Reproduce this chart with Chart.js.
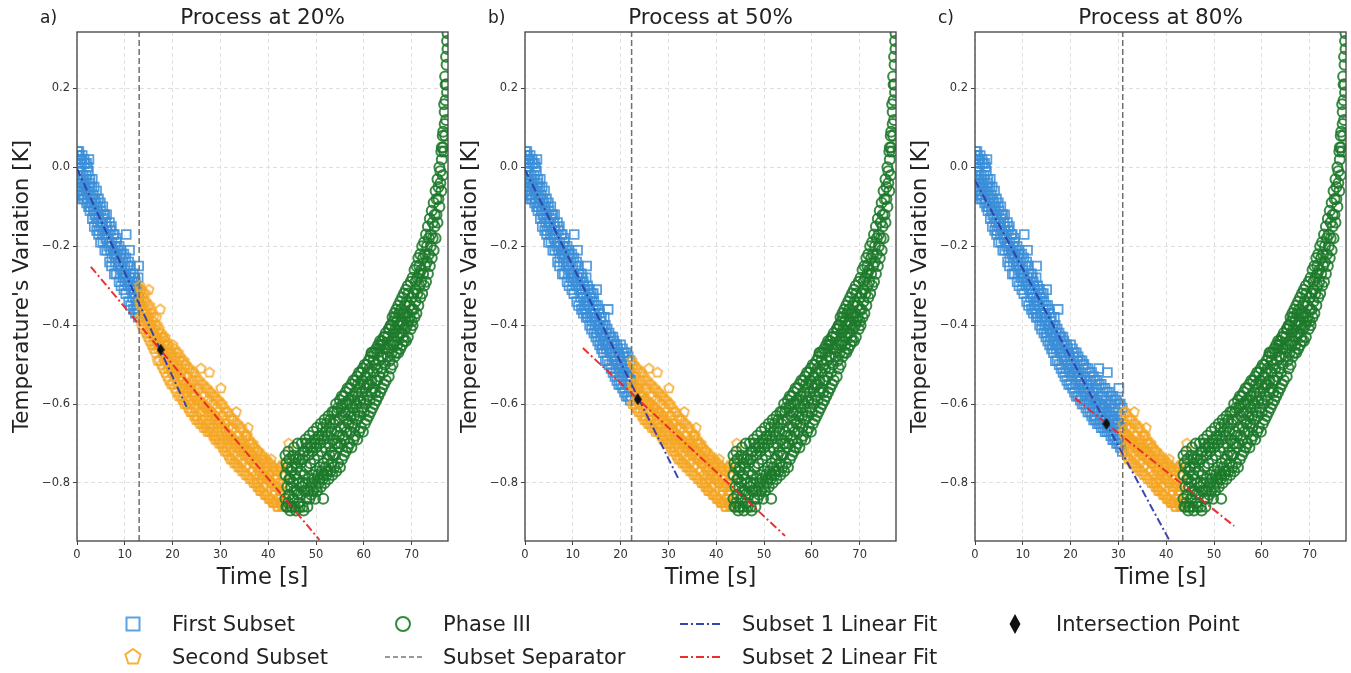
<!DOCTYPE html>
<html>
<head>
<meta charset="utf-8">
<script src="https://cdn.jsdelivr.net/npm/chart.js@4.4.1/dist/chart.umd.min.js"></script>
<style>
  body { margin: 0; background: #fff; width: 1351px; height: 673px; position: relative; overflow: hidden; font-family: "DejaVu Sans", sans-serif; color: #222; }
  .panel { position: absolute; top: 0; width: 451px; height: 600px; }
  .letter { position: absolute; top: 5px; font-size: 17px; line-height: 24px; }
  .lg { position: absolute; font-size: 21px; line-height: 24px; white-space: nowrap; }
</style>
</head>
<body>
<div class="panel" style="left:0px"><canvas id="panel0" width="451" height="600"></canvas></div>
<div class="panel" style="left:448px"><canvas id="panel1" width="451" height="600"></canvas></div>
<div class="panel" style="left:898px"><canvas id="panel2" width="451" height="600"></canvas></div>
<div class="letter" style="left:40px">a)</div>
<div class="letter" style="left:488px">b)</div>
<div class="letter" style="left:938px">c)</div>

<svg width="1351" height="78" style="position:absolute;left:0;top:595px">
  <rect x="126.5" y="22.5" width="13" height="13" fill="none" stroke="#5aa2e2" stroke-width="2"/>
  <polygon points="133,54 140.6,59.5 137.7,68.5 128.3,68.5 125.4,59.5" fill="none" stroke="#f6b23a" stroke-width="2"/>
  <circle cx="403" cy="29" r="7" fill="none" stroke="#2e8c3a" stroke-width="2"/>
  <line x1="385" y1="62" x2="425" y2="62" stroke="#777" stroke-width="1.6" stroke-dasharray="5,3"/>
  <line x1="680" y1="29" x2="722" y2="29" stroke="#3545b0" stroke-width="2" stroke-dasharray="8,3,2,3"/>
  <line x1="680" y1="62" x2="722" y2="62" stroke="#e8302c" stroke-width="2" stroke-dasharray="8,3,2,3"/>
  <polygon points="1015,19 1020.5,29 1015,39 1009.5,29" fill="#111"/>
</svg>
<div class="lg" style="left:172px;top:612px">First Subset</div>
<div class="lg" style="left:172px;top:645px">Second Subset</div>
<div class="lg" style="left:443px;top:612px">Phase III</div>
<div class="lg" style="left:443px;top:645px">Subset Separator</div>
<div class="lg" style="left:742px;top:612px">Subset 1 Linear Fit</div>
<div class="lg" style="left:742px;top:645px">Subset 2 Linear Fit</div>
<div class="lg" style="left:1056px;top:612px">Intersection Point</div>

<script>
// panels
const panelTitles = ['Process at 20%', 'Process at 50%', 'Process at 80%'];
const separatorTimes = [13.0, 22.3, 30.9];
const intersectionTimes = [17.5, 23.6, 27.5];
const intersectionTemps = [-0.462, -0.588, -0.650];
const fit1Times = [[0, 22.9], [0, 32.0], [0, 40.6]];
const fit1Temps = [[-0.003, -0.607], [-0.006, -0.787], [-0.033, -0.944]];
const fit2Times = [[2.9, 50.7], [12.1, 54.4], [20.9, 54.2]];
const fit2Temps = [[-0.252, -0.944], [-0.458, -0.934], [-0.585, -0.909]];

// axes
const xTicks = [0, 10, 20, 30, 40, 50, 60, 70];
const yTicks = [-0.8, -0.6, -0.4, -0.2, 0.0, 0.2];
const xRange = [0, 77.6];
const yRange = [-0.947, 0.343];

// measured temperature variation [time s, K] before phase III (split into subsets by separator)
const coolingData = [
  [0.0,0.03],[0.0,-0.04],[0.2,-0.01],[0.2,0.02],[0.4,-0.05],[0.4,0.04],[0.6,0.00],[0.6,-0.06],[0.8,-0.03],[0.8,0.02],
  [1.0,-0.05],[1.0,0.01],[1.3,-0.02],[1.3,-0.07],[1.6,0.01],[1.6,-0.04],[1.9,-0.06],[1.9,-0.02],
  [2.2,-0.08],[2.2,0.00],[2.5,-0.04],[2.5,0.02],[2.8,-0.07],[2.8,-0.10],[3.1,-0.05],[3.1,-0.09],[3.4,-0.11],[3.4,-0.07],[3.7,-0.08],[3.7,-0.12],
  [4.0,-0.13],[4.0,-0.09],[4.3,-0.10],[4.3,-0.14],[4.6,-0.16],[4.6,-0.12],[5.0,-0.11],[5.0,-0.15],[5.3,-0.14],[5.3,-0.17],[5.6,-0.12],[5.6,-0.16],
  [6.0,-0.18],[6.0,-0.14],[6.3,-0.15],[6.3,-0.19],[6.6,-0.20],[6.6,-0.17],[7.0,-0.16],[7.0,-0.21],[7.3,-0.19],[7.3,-0.23],[7.6,-0.21],[7.6,-0.17],
  [8.0,-0.24],[8.0,-0.20],[8.3,-0.22],[8.3,-0.19],[8.6,-0.25],[8.6,-0.21],[9.0,-0.23],[9.0,-0.27],[9.3,-0.26],[9.3,-0.22],[9.6,-0.28],[9.6,-0.24],
  [10.0,-0.25],[10.0,-0.29],[10.3,-0.17],[10.3,-0.27],[10.6,-0.30],[10.6,-0.25],[11.0,-0.21],[11.0,-0.28],[11.3,-0.31],[11.3,-0.27],[11.6,-0.29],[11.6,-0.33],
  [12.0,-0.32],[12.0,-0.28],[12.3,-0.35],[12.3,-0.30],[12.6,-0.31],[12.6,-0.36],[12.9,-0.25],[12.9,-0.33],[12.9,-0.37],
  [13.3,-0.35],[13.3,-0.31],[13.6,-0.38],[13.6,-0.33],[14.0,-0.34],[14.0,-0.39],[14.3,-0.36],[14.3,-0.32],[14.6,-0.40],[14.6,-0.37],
  [15.0,-0.31],[15.0,-0.38],[15.0,-0.42],[15.4,-0.36],[15.4,-0.40],[15.8,-0.43],[15.8,-0.39],[16.2,-0.41],[16.2,-0.45],[16.6,-0.38],[16.6,-0.44],
  [17.0,-0.46],[17.0,-0.42],[17.4,-0.36],[17.4,-0.44],[17.8,-0.47],[17.8,-0.43],[18.2,-0.49],[18.2,-0.45],[18.6,-0.44],[18.6,-0.48],
  [19.0,-0.51],[19.0,-0.47],[19.4,-0.46],[19.4,-0.50],[19.8,-0.52],[19.8,-0.48],[20.2,-0.50],[20.2,-0.53],[20.6,-0.48],[20.6,-0.52],
  [21.0,-0.55],[21.0,-0.51],[21.4,-0.53],[21.4,-0.49],[21.8,-0.56],[21.8,-0.52],[22.2,-0.54],[22.2,-0.58],
  [22.6,-0.50],[22.6,-0.56],[23.0,-0.57],[23.0,-0.53],[23.4,-0.59],[23.4,-0.55],[23.8,-0.56],[23.8,-0.60],[24.2,-0.58],[24.2,-0.54],[24.6,-0.61],[24.6,-0.57],
  [25.0,-0.59],[25.0,-0.63],[25.4,-0.56],[25.4,-0.60],[25.9,-0.51],[25.9,-0.62],[26.2,-0.60],[26.2,-0.64],[26.6,-0.58],[26.6,-0.62],
  [27.0,-0.65],[27.0,-0.61],[27.4,-0.63],[27.4,-0.59],[27.7,-0.52],[27.7,-0.66],[28.1,-0.62],[28.1,-0.64],[28.5,-0.67],[28.5,-0.60],[28.9,-0.63],[28.9,-0.68],
  [29.3,-0.65],[29.3,-0.61],[29.7,-0.69],[29.7,-0.64],[30.1,-0.56],[30.1,-0.66],[30.5,-0.63],[30.5,-0.70],
  [31.0,-0.67],[31.0,-0.65],[31.3,-0.71],[31.3,-0.68],[31.7,-0.66],[31.7,-0.69],[32.1,-0.72],[32.1,-0.68],[32.5,-0.70],[32.5,-0.66],[32.9,-0.73],[32.9,-0.69],
  [33.3,-0.62],[33.3,-0.71],[33.7,-0.68],[33.7,-0.74],[34.1,-0.70],[34.1,-0.72],[34.5,-0.75],[34.5,-0.69],[34.9,-0.71],[34.9,-0.73],
  [35.3,-0.68],[35.3,-0.76],[35.8,-0.66],[35.8,-0.72],[36.2,-0.74],[36.2,-0.70],[36.6,-0.77],[36.6,-0.73],[37.0,-0.71],[37.0,-0.75],[37.4,-0.78],[37.4,-0.74],
  [37.8,-0.72],[37.8,-0.80],[38.2,-0.76],[38.2,-0.82],[38.6,-0.74],[38.6,-0.79],[39.0,-0.81],[39.0,-0.77],[39.4,-0.75],[39.4,-0.83],[39.8,-0.79],[39.8,-0.76],
  [40.2,-0.84],[40.2,-0.78],[40.6,-0.80],[40.6,-0.74],[41.0,-0.77],[41.0,-0.85],[41.4,-0.82],[41.4,-0.79],[41.8,-0.86],[41.8,-0.78],
  [42.2,-0.80],[42.2,-0.84],[42.6,-0.76],[42.6,-0.83],[43.0,-0.81],[43.0,-0.86],[43.4,-0.78],[43.4,-0.84],[44.3,-0.70],
  // band edges and middle between the rows above
  [0.1,0.04],[0.1,-0.02],[0.1,-0.06],[0.5,0.03],[0.5,-0.03],[0.5,-0.07],[0.9,0.02],[0.9,-0.01],[0.9,-0.07],
  [1.1,0.03],[1.1,-0.04],[1.1,-0.08],[1.5,0.02],[1.5,-0.05],[1.5,-0.08],[2.0,0.01],[2.0,-0.03],[2.0,-0.09],
  [2.4,-0.01],[2.4,-0.06],[2.4,-0.10],[2.7,-0.03],[2.7,-0.05],[2.7,-0.11],[3.2,-0.03],[3.2,-0.08],[3.2,-0.13],
  [3.6,-0.05],[3.6,-0.10],[3.6,-0.15],[4.1,-0.06],[4.1,-0.11],[4.1,-0.16],[4.5,-0.08],[4.5,-0.13],[4.5,-0.17],
  [4.9,-0.09],[4.9,-0.14],[4.9,-0.19],[5.4,-0.10],[5.4,-0.13],[5.4,-0.19],[5.8,-0.12],[5.8,-0.17],[5.8,-0.21],
  [6.2,-0.12],[6.2,-0.16],[6.2,-0.21],[6.8,-0.14],[6.8,-0.19],[6.8,-0.24],[7.2,-0.15],[7.2,-0.20],[7.2,-0.25],
  [7.8,-0.17],[7.8,-0.22],[7.8,-0.27],[8.2,-0.18],[8.2,-0.23],[8.2,-0.27],[8.8,-0.20],[8.8,-0.24],[8.8,-0.29],
  [9.2,-0.21],[9.2,-0.25],[9.2,-0.30],[9.8,-0.22],[9.8,-0.27],[9.8,-0.31],[10.2,-0.23],[10.2,-0.28],[10.2,-0.32],
  [10.8,-0.24],[10.8,-0.29],[10.8,-0.34],[11.2,-0.25],[11.2,-0.30],[11.2,-0.35],[11.8,-0.27],[11.8,-0.31],[11.8,-0.36],
  [12.2,-0.29],[12.2,-0.33],[12.2,-0.37],[12.8,-0.28],[12.8,-0.34],[12.8,-0.38],[13.1,-0.30],[13.1,-0.34],[13.1,-0.38],
  [13.5,-0.31],[13.5,-0.35],[13.5,-0.40],[13.9,-0.32],[13.9,-0.37],[13.9,-0.41],[14.4,-0.34],[14.4,-0.38],[14.4,-0.42],
  [14.8,-0.35],[14.8,-0.39],[14.8,-0.43],[15.2,-0.35],[15.2,-0.40],[15.2,-0.44],[15.6,-0.37],[15.6,-0.41],[15.6,-0.45],
  [16.0,-0.38],[16.0,-0.42],[16.0,-0.46],[16.4,-0.40],[16.4,-0.43],[16.4,-0.47],[16.8,-0.40],[16.8,-0.45],[16.8,-0.49],
  [17.2,-0.41],[17.2,-0.45],[17.2,-0.49],[17.6,-0.42],[17.6,-0.46],[17.6,-0.50],[18.0,-0.43],[18.0,-0.47],[18.0,-0.51],
  [18.4,-0.43],[18.4,-0.47],[18.4,-0.52],[18.8,-0.45],[18.8,-0.49],[18.8,-0.53],[19.2,-0.45],[19.2,-0.49],[19.2,-0.54],
  [19.6,-0.47],[19.6,-0.51],[19.6,-0.55],[20.0,-0.45],[20.0,-0.50],[20.0,-0.55],[20.4,-0.46],[20.4,-0.51],[20.4,-0.56],
  [20.8,-0.47],[20.8,-0.52],[20.8,-0.57],[21.2,-0.47],[21.2,-0.52],[21.2,-0.58],[21.6,-0.48],[21.6,-0.53],[21.6,-0.58],
  [22.0,-0.49],[22.0,-0.54],[22.0,-0.59],[22.4,-0.49],[22.4,-0.55],[22.4,-0.60],[22.8,-0.50],[22.8,-0.55],[22.8,-0.60],
  [23.2,-0.51],[23.2,-0.56],[23.2,-0.61],[23.6,-0.51],[23.6,-0.56],[23.6,-0.62],[24.0,-0.52],[24.0,-0.57],[24.0,-0.62],
  [24.4,-0.52],[24.4,-0.58],[24.4,-0.63],[24.8,-0.53],[24.8,-0.58],[24.8,-0.64],[25.2,-0.54],[25.2,-0.59],[25.2,-0.64],
  [25.6,-0.54],[25.6,-0.59],[25.6,-0.65],[26.0,-0.55],[26.0,-0.60],[26.0,-0.65],[26.4,-0.55],[26.4,-0.60],[26.4,-0.66],
  [26.8,-0.56],[26.8,-0.61],[26.8,-0.66],[27.2,-0.56],[27.2,-0.61],[27.2,-0.67],[27.6,-0.57],[27.6,-0.62],[27.6,-0.67],
  [28.0,-0.57],[28.0,-0.62],[28.0,-0.67],[28.4,-0.58],[28.4,-0.63],[28.4,-0.68],[28.8,-0.58],[28.8,-0.64],[28.8,-0.69],
  [29.2,-0.59],[29.2,-0.64],[29.2,-0.69],[29.6,-0.59],[29.6,-0.65],[29.6,-0.70],[30.0,-0.60],[30.0,-0.65],[30.0,-0.70],
  [30.4,-0.60],[30.4,-0.66],[30.4,-0.71],[30.8,-0.61],[30.8,-0.66],[30.8,-0.72],[31.2,-0.62],[31.2,-0.67],[31.2,-0.72],
  [31.6,-0.62],[31.6,-0.68],[31.6,-0.73],[32.0,-0.63],[32.0,-0.68],[32.0,-0.74],[32.4,-0.64],[32.4,-0.69],[32.4,-0.74],
  [32.8,-0.64],[32.8,-0.69],[32.8,-0.75],[33.2,-0.65],[33.2,-0.70],[33.2,-0.75],[33.6,-0.65],[33.6,-0.70],[33.6,-0.76],
  [34.0,-0.66],[34.0,-0.71],[34.0,-0.76],[34.4,-0.66],[34.4,-0.71],[34.4,-0.77],[34.8,-0.67],[34.8,-0.72],[34.8,-0.77],
  [35.2,-0.68],[35.2,-0.72],[35.2,-0.78],[35.6,-0.68],[35.6,-0.73],[35.6,-0.78],[36.0,-0.69],[36.0,-0.74],[36.0,-0.79],
  [36.4,-0.70],[36.4,-0.74],[36.4,-0.79],[36.8,-0.70],[36.8,-0.75],[36.8,-0.80],[37.2,-0.71],[37.2,-0.75],[37.2,-0.80],
  [37.6,-0.72],[37.6,-0.76],[37.6,-0.81],[38.0,-0.72],[38.0,-0.77],[38.0,-0.81],[38.4,-0.73],[38.4,-0.77],[38.4,-0.82],
  [38.8,-0.73],[38.8,-0.78],[38.8,-0.82],[39.2,-0.74],[39.2,-0.78],[39.2,-0.83],[39.6,-0.74],[39.6,-0.79],[39.6,-0.83],
  [40.0,-0.75],[40.0,-0.79],[40.0,-0.84],[40.4,-0.75],[40.4,-0.80],[40.4,-0.84],[40.8,-0.76],[40.8,-0.80],[40.8,-0.85],
  [41.2,-0.76],[41.2,-0.81],[41.2,-0.85],[41.6,-0.77],[41.6,-0.81],[41.6,-0.85],[42.0,-0.77],[42.0,-0.81],[42.0,-0.86],
  [42.4,-0.76],[42.4,-0.82],[42.4,-0.85],[42.8,-0.78],[42.8,-0.82],[42.8,-0.86],[43.2,-0.75],[43.2,-0.80],[43.2,-0.85]
];

// phase III [time s, K]
const phaseThreeData = [
  [43.6,-0.78],[43.6,-0.84],[43.6,-0.73],[44.0,-0.81],[44.0,-0.86],[44.0,-0.76],[44.4,-0.74],[44.4,-0.83],[44.4,-0.79],
  [44.8,-0.86],[44.8,-0.77],[44.8,-0.81],[45.2,-0.73],[45.2,-0.80],[45.2,-0.84],[45.6,-0.78],[45.6,-0.86],[45.6,-0.75],
  [46.0,-0.82],[46.0,-0.76],[46.0,-0.79],[46.4,-0.85],[46.4,-0.74],[46.4,-0.80],[46.8,-0.77],[46.8,-0.83],[46.8,-0.75],
  [47.2,-0.80],[47.2,-0.86],[47.2,-0.74],[47.6,-0.78],[47.6,-0.82],[47.6,-0.72],[48.0,-0.76],[48.0,-0.84],[48.0,-0.70],
  [48.4,-0.79],[48.4,-0.73],[48.4,-0.82],[48.8,-0.75],[48.8,-0.81],[48.8,-0.71],[49.2,-0.78],[49.2,-0.72],[49.2,-0.80],
  [49.6,-0.74],[49.6,-0.79],[49.6,-0.70],[50.0,-0.77],[50.0,-0.71],[50.0,-0.81],[50.4,-0.73],[50.4,-0.78],[50.4,-0.69],
  [50.8,-0.76],[50.8,-0.70],[50.8,-0.79],[51.2,-0.72],[51.2,-0.77],[51.2,-0.68],[51.5,-0.84],[51.6,-0.75],[51.6,-0.69],[51.6,-0.78],
  [52.0,-0.71],[52.0,-0.76],[52.0,-0.67],[52.4,-0.74],[52.4,-0.68],[52.4,-0.77],[52.8,-0.70],[52.8,-0.73],[52.8,-0.66],
  [53.2,-0.72],[53.2,-0.67],[53.2,-0.75],[53.6,-0.69],[53.6,-0.65],[53.6,-0.73],[54.0,-0.70],[54.0,-0.64],[54.0,-0.73],
  [54.4,-0.67],[54.4,-0.70],[54.4,-0.62],[54.8,-0.68],[54.8,-0.64],[54.8,-0.71],[55.2,-0.66],[55.2,-0.61],[55.2,-0.70],
  [55.6,-0.63],[55.6,-0.68],[55.6,-0.60],[56.0,-0.66],[56.0,-0.62],[56.0,-0.69],[56.4,-0.64],[56.4,-0.60],[56.4,-0.67],
  [56.8,-0.62],[56.8,-0.65],[56.8,-0.59],[57.2,-0.63],[57.2,-0.67],[57.2,-0.60],[57.6,-0.61],[57.6,-0.65],[57.6,-0.58],
  [58.0,-0.63],[58.0,-0.59],[58.0,-0.66],[58.4,-0.60],[58.4,-0.57],[58.4,-0.64],[58.8,-0.62],[58.8,-0.58],[58.8,-0.55],
  [59.2,-0.59],[59.2,-0.63],[59.2,-0.56],[59.6,-0.57],[59.6,-0.61],[59.6,-0.54],[60.0,-0.59],[60.0,-0.55],[60.0,-0.62],
  [60.4,-0.56],[60.4,-0.53],[60.4,-0.60],[60.8,-0.55],[60.8,-0.58],[60.8,-0.52],[61.2,-0.55],[61.2,-0.59],[61.2,-0.51],
  [61.6,-0.47],[61.6,-0.54],[61.6,-0.57],[62.0,-0.52],[62.0,-0.56],[62.0,-0.49],[62.4,-0.54],[62.4,-0.50],[62.4,-0.57],
  [62.8,-0.51],[62.8,-0.47],[62.8,-0.54],[63.2,-0.49],[63.2,-0.53],[63.2,-0.46],[63.6,-0.51],[63.6,-0.48],[63.6,-0.45],
  [64.0,-0.48],[64.0,-0.52],[64.0,-0.45],[64.4,-0.46],[64.4,-0.50],[64.4,-0.43],[65.0,-0.46],[65.0,-0.48],[65.0,-0.43],
  [65.4,-0.45],[65.4,-0.41],[65.4,-0.49],[65.8,-0.44],[65.8,-0.40],[65.8,-0.47],[66.2,-0.42],[66.2,-0.45],[66.2,-0.39],
  [66.6,-0.41],[66.6,-0.44],[66.6,-0.38],[67.0,-0.43],[67.0,-0.39],[67.0,-0.45],[67.4,-0.40],[67.4,-0.37],[67.4,-0.42],
  [67.8,-0.39],[67.8,-0.42],[67.8,-0.36],[68.2,-0.40],[68.2,-0.37],[68.2,-0.43],[68.6,-0.38],[68.6,-0.35],[68.6,-0.41],
  [69.0,-0.37],[69.0,-0.34],[69.0,-0.40],[69.3,-0.32],[69.3,-0.39],[69.6,-0.35],[69.6,-0.38],[70.0,-0.36],[70.0,-0.33],[70.0,-0.39],
  [70.4,-0.32],[70.4,-0.36],[70.8,-0.31],[70.8,-0.34],[70.8,-0.29],[71.2,-0.32],[71.2,-0.28],[71.6,-0.27],[71.6,-0.30],[71.6,-0.25],
  [72.0,-0.29],[72.0,-0.26],[72.4,-0.27],[72.4,-0.23],[72.8,-0.25],[72.8,-0.22],[73.2,-0.24],[73.2,-0.20],[73.6,-0.22],[73.6,-0.18],
  [74.0,-0.20],[74.0,-0.17],[74.4,-0.18],[74.4,-0.14],[74.8,-0.15],[74.8,-0.12],[75.2,-0.12],[75.2,-0.08],[75.6,-0.08],[75.6,-0.05],
  [76.0,-0.04],[76.0,-0.01],[76.3,0.02],[76.3,0.05],[76.6,0.05],[76.6,0.09],[76.9,0.11],[76.9,0.14],[77.1,0.17],[77.1,0.21],
  [77.3,0.21],[77.3,0.26],[77.5,0.30],[77.5,0.34],
  // band edges between the rows above
  [43.8,-0.75],[43.8,-0.86],[44.2,-0.72],[44.2,-0.85],[44.6,-0.79],[44.6,-0.87],[45.0,-0.76],[45.0,-0.86],
  [45.4,-0.71],[45.4,-0.82],[45.8,-0.74],[45.8,-0.87],[46.2,-0.70],[46.2,-0.83],[46.6,-0.73],[46.6,-0.86],
  [47.0,-0.70],[47.0,-0.81],[47.4,-0.72],[47.4,-0.87],[47.8,-0.69],[47.8,-0.80],[48.2,-0.71],[48.2,-0.86],
  [48.6,-0.68],[48.6,-0.84],[49.0,-0.70],[49.0,-0.83],[49.4,-0.67],[49.4,-0.82],[49.8,-0.69],[49.8,-0.84],
  [50.2,-0.66],[50.2,-0.82],[50.6,-0.68],[50.6,-0.80],[51.0,-0.65],[51.0,-0.81],[51.4,-0.66],[51.4,-0.79],
  [51.8,-0.64],[51.8,-0.80],[52.2,-0.65],[52.2,-0.78],[52.6,-0.63],[52.6,-0.79],[53.0,-0.64],[53.0,-0.77],
  [53.4,-0.62],[53.4,-0.78],[53.8,-0.62],[53.8,-0.76],[54.2,-0.60],[54.2,-0.77],[54.6,-0.61],[54.6,-0.75],
  [55.0,-0.59],[55.0,-0.76],[55.4,-0.58],[55.4,-0.74],[55.8,-0.58],[55.8,-0.73],[56.2,-0.57],[56.2,-0.72],
  [56.6,-0.56],[56.6,-0.71],[57.0,-0.56],[57.0,-0.70],[57.4,-0.55],[57.4,-0.71],[57.8,-0.54],[57.8,-0.69],
  [58.2,-0.54],[58.2,-0.68],[58.6,-0.53],[58.6,-0.69],[59.0,-0.52],[59.0,-0.67],[59.4,-0.52],[59.4,-0.66],
  [59.8,-0.51],[59.8,-0.67],[60.2,-0.50],[60.2,-0.65],[60.6,-0.50],[60.6,-0.64],[61.0,-0.49],[61.0,-0.63],
  [61.4,-0.48],[61.4,-0.62],[61.8,-0.47],[61.8,-0.61],[62.2,-0.47],[62.2,-0.60],[62.6,-0.46],[62.6,-0.59],
  [63.0,-0.45],[63.0,-0.58],[63.4,-0.44],[63.4,-0.57],[63.8,-0.44],[63.8,-0.56],[64.2,-0.43],[64.2,-0.55],
  [64.6,-0.42],[64.6,-0.54],[65.2,-0.41],[65.2,-0.53],[65.6,-0.40],[65.6,-0.51],[66.0,-0.38],[66.0,-0.50],
  [66.4,-0.37],[66.4,-0.48],[66.8,-0.36],[66.8,-0.47],[67.2,-0.35],[67.2,-0.47],[67.6,-0.34],[67.6,-0.46],
  [68.0,-0.33],[68.0,-0.45],[68.4,-0.32],[68.4,-0.44],[68.8,-0.31],[68.8,-0.44],[69.2,-0.30],[69.2,-0.43],
  [69.8,-0.29],[69.8,-0.41],[70.2,-0.28],[70.2,-0.40],[70.6,-0.26],[70.6,-0.38],[71.0,-0.25],[71.0,-0.37],
  [71.4,-0.23],[71.4,-0.35],[71.8,-0.22],[71.8,-0.33],[72.2,-0.20],[72.2,-0.32],[72.6,-0.19],[72.6,-0.30],
  [73.0,-0.17],[73.0,-0.29],[73.4,-0.15],[73.4,-0.27],[73.8,-0.13],[73.8,-0.25],[74.2,-0.11],[74.2,-0.23],
  [74.6,-0.09],[74.6,-0.21],[75.0,-0.06],[75.0,-0.18],[75.4,-0.03],[75.4,-0.14],[75.8,0.00],[75.8,-0.10],
  [76.2,0.04],[76.2,-0.06],[76.5,0.08],[76.5,-0.02],[76.8,0.16],[76.8,0.04],[77.0,0.23],[77.0,0.08],
  [77.2,0.28],[77.2,0.12],[77.4,0.32],[77.4,0.19]
];

const FONT = '"DejaVu Sans", sans-serif';

// pentagon marker for the second subset
function makePentagon(r, color, lw) {
  const s = Math.ceil(2 * r + lw + 2);
  const c = document.createElement('canvas');
  c.width = s; c.height = s;
  const g = c.getContext('2d');
  g.beginPath();
  for (let i = 0; i < 5; i++) {
    const a = -Math.PI / 2 + i * 2 * Math.PI / 5;
    const px = s / 2 + r * Math.cos(a), py = s / 2 + r * Math.sin(a);
    if (i === 0) g.moveTo(px, py); else g.lineTo(px, py);
  }
  g.closePath();
  g.strokeStyle = color; g.lineWidth = lw; g.stroke();
  return c;
}

// thin diamond for the intersection
function makeDiamond(w, h, color) {
  const c = document.createElement('canvas');
  c.width = w; c.height = h;
  const g = c.getContext('2d');
  g.beginPath();
  g.moveTo(w / 2, 0); g.lineTo(w, h / 2); g.lineTo(w / 2, h); g.lineTo(0, h / 2);
  g.closePath();
  g.fillStyle = color; g.fill();
  return c;
}

const pentagon = makePentagon(5, 'rgba(245,166,35,0.85)', 1.7);
const diamond = makeDiamond(8, 12, '#111');

// box round the plot, like matplotlib spines
const framePlugin = {
  id: 'frame',
  afterDraw(chart) {
    const { ctx, chartArea: a } = chart;
    ctx.save();
    ctx.strokeStyle = '#4d4d4d';
    ctx.lineWidth = 1.4;
    ctx.strokeRect(a.left, a.top, a.right - a.left, a.bottom - a.top);
    ctx.restore();
  }
};

const toPoints = arr => arr.map(p => ({ x: p[0], y: p[1] }));
const minus = v => v.toFixed(1).replace('-', '\u2212');

function buildPanel(i) {
  const sep = separatorTimes[i];
  const first = coolingData.filter(p => p[0] < sep);
  const second = coolingData.filter(p => p[0] >= sep);

  const ctx = document.getElementById('panel' + i).getContext('2d');
  new Chart(ctx, {
    type: 'scatter',
    data: {
      datasets: [
        {
          label: 'First Subset', data: toPoints(first), order: 7,
          pointStyle: 'rect', pointRadius: 6.2, borderWidth: 1.8,
          borderColor: 'rgba(59,142,216,0.85)', backgroundColor: 'rgba(0,0,0,0)'
        },
        {
          label: 'Second Subset', data: toPoints(second), order: 6,
          pointStyle: pentagon, pointRadius: 5
        },
        {
          label: 'Phase III', data: toPoints(phaseThreeData), order: 5,
          pointStyle: 'circle', pointRadius: 5, borderWidth: 2,
          borderColor: 'rgba(29,122,42,0.88)', backgroundColor: 'rgba(0,0,0,0)'
        },
        {
          label: 'Subset Separator', type: 'line', order: 4, showLine: true,
          data: [{ x: sep, y: yRange[0] }, { x: sep, y: yRange[1] }],
          borderColor: '#707070', borderWidth: 1.5, borderDash: [6, 3], pointRadius: 0
        },
        {
          label: 'Subset 1 Linear Fit', type: 'line', order: 3, showLine: true,
          data: [{ x: fit1Times[i][0], y: fit1Temps[i][0] }, { x: fit1Times[i][1], y: fit1Temps[i][1] }],
          borderColor: 'rgba(48,62,170,0.95)', borderWidth: 2, borderDash: [8, 3, 2, 3], pointRadius: 0
        },
        {
          label: 'Subset 2 Linear Fit', type: 'line', order: 2, showLine: true,
          data: [{ x: fit2Times[i][0], y: fit2Temps[i][0] }, { x: fit2Times[i][1], y: fit2Temps[i][1] }],
          borderColor: 'rgba(232,40,40,0.95)', borderWidth: 2, borderDash: [8, 3, 2, 3], pointRadius: 0
        },
        {
          label: 'Intersection Point', order: 1,
          data: [{ x: intersectionTimes[i], y: intersectionTemps[i] }],
          pointStyle: diamond, pointRadius: 6
        }
      ]
    },
    options: {
      responsive: false,
      animation: false,
      events: [],
      layout: { autoPadding: false, padding: { left: 0, right: 3, top: 0, bottom: 0 } },
      plugins: {
        legend: { display: false },
        tooltip: { enabled: false },
        title: {
          display: true, fullSize: false, text: panelTitles[i], color: '#222',
          font: { family: FONT, size: 21.5, weight: 'normal' },
          padding: { top: 5.5, bottom: 0.7 }
        }
      },
      scales: {
        x: {
          type: 'linear', min: xRange[0], max: xRange[1],
          afterFit: s => { s.height = 59; },
          afterBuildTicks: s => { s.ticks = xTicks.map(v => ({ value: v })); },
          grid: { color: '#dcdcdc', lineWidth: 0.9, tickLength: 4, tickColor: '#444', tickWidth: 1 },
          border: { display: false, dash: [4, 3] },
          ticks: { color: '#333', font: { family: FONT, size: 11.5 }, padding: 3, maxRotation: 0, autoSkip: false, callback: v => String(v) },
          title: { display: true, text: 'Time [s]', color: '#222', font: { family: FONT, size: 22.5 }, padding: { top: 0, bottom: 8.5 } }
        },
        y: {
          type: 'linear', min: yRange[0], max: yRange[1],
          afterFit: s => { s.width = 77; },
          afterBuildTicks: s => { s.ticks = yTicks.map(v => ({ value: v })); },
          grid: { color: '#dcdcdc', lineWidth: 0.9, tickLength: 4, tickColor: '#444', tickWidth: 1 },
          border: { display: false, dash: [4, 3] },
          ticks: { color: '#333', font: { family: FONT, size: 11.5 }, padding: 3, autoSkip: false, callback: v => minus(v) },
          title: { display: true, text: "Temperature's Variation [K]", color: '#222', font: { family: FONT, size: 21.5 }, padding: { top: 9.5, bottom: 0 } }
        }
      }
    },
    plugins: [framePlugin]
  });
}

[0, 1, 2].forEach(buildPanel);
</script>
</body>
</html>
